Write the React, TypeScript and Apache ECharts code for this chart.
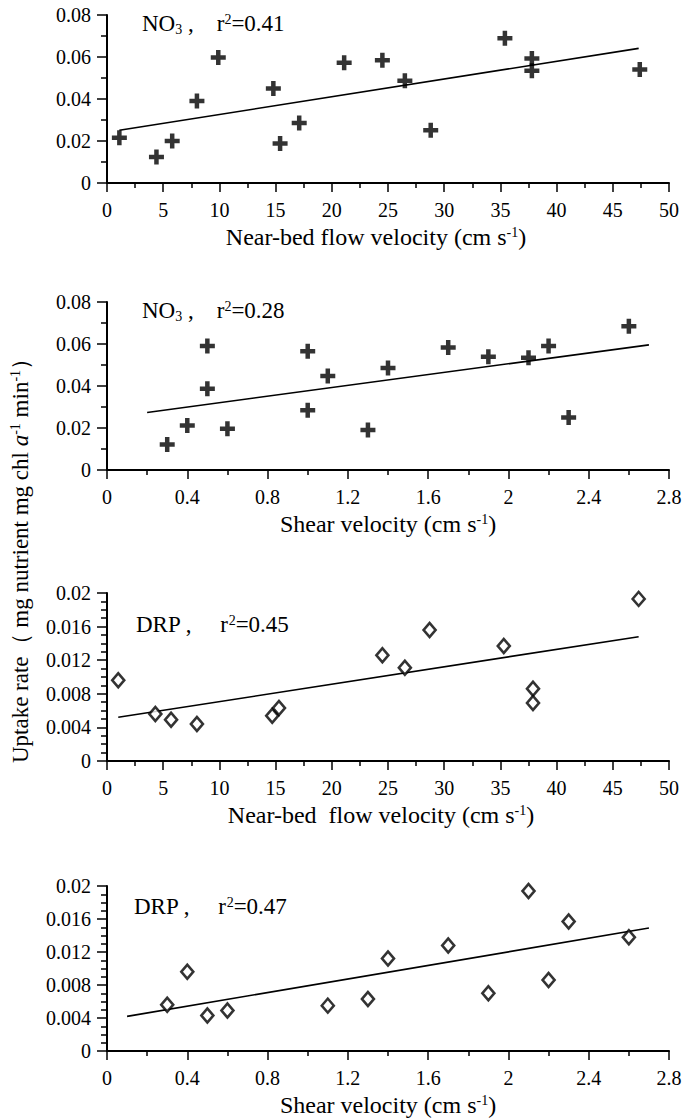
import React, { useEffect, useRef } from 'react';
import * as echarts from 'echarts';

// Panel 1: NO3 vs near-bed flow velocity
const nearBedNO3X = [1.1, 4.4, 5.8, 8.0, 9.9, 14.8, 15.4, 17.1, 21.1, 24.5, 26.5, 28.8, 35.4, 37.8, 37.8, 47.4];
const nearBedNO3Y = [0.0216, 0.0124, 0.02, 0.039, 0.0598, 0.045, 0.0188, 0.0286, 0.0573, 0.0585, 0.0487, 0.0251, 0.0689, 0.0593, 0.0534, 0.0541];
const nearBedNO3Fit = [[1.1, 0.0251], [47.3, 0.0641]];

// Panel 2: NO3 vs shear velocity
const shearNO3X = [0.3, 0.4, 0.5, 0.5, 0.6, 1.0, 1.0, 1.1, 1.3, 1.4, 1.7, 1.9, 2.1, 2.2, 2.3, 2.6];
const shearNO3Y = [0.0122, 0.0212, 0.0591, 0.0387, 0.0196, 0.0566, 0.0285, 0.0448, 0.019, 0.0486, 0.0583, 0.0539, 0.0534, 0.0591, 0.025, 0.0684];
const shearNO3Fit = [[0.2, 0.0274], [2.7, 0.0596]];

// Panel 3: DRP vs near-bed flow velocity
const nearBedDRPX = [1.0, 4.3, 5.7, 8.0, 14.7, 15.3, 24.5, 26.5, 28.7, 35.3, 37.9, 37.9, 47.3];
const nearBedDRPY = [0.0096, 0.0056, 0.0049, 0.0044, 0.0054, 0.0063, 0.0126, 0.0111, 0.0156, 0.0137, 0.0086, 0.0069, 0.0193];
const nearBedDRPFit = [[1.0, 0.0052], [47.3, 0.0148]];

// Panel 4: DRP vs shear velocity
const shearDRPX = [0.3, 0.4, 0.5, 0.6, 1.1, 1.3, 1.4, 1.7, 1.9, 2.1, 2.2, 2.3, 2.6];
const shearDRPY = [0.0056, 0.0096, 0.0043, 0.0049, 0.0055, 0.0063, 0.0112, 0.0128, 0.007, 0.0194, 0.0086, 0.0157, 0.0138];
const shearDRPFit = [[0.1, 0.0042], [2.7, 0.0149]];

const panelLabels = ['NO', 'NO', 'DRP', 'DRP'];
const panelSub = ['3', '3', '', ''];
const panelR2 = ['0.41', '0.28', '0.45', '0.47'];

const nearBedRange = { min: 0, max: 50, interval: 5 };
const shearRange = { min: 0, max: 2.8, interval: 0.4 };
const no3Range = { min: 0, max: 0.08, interval: 0.02 };
const drpRange = { min: 0, max: 0.02, interval: 0.004 };

const FONT = '"Liberation Serif", "Times New Roman", serif';
const PLUS = 'path://M3.5,0H6.5V3.5H10V6.5H6.5V10H3.5V6.5H0V3.5H3.5Z';

const zip = (xs: number[], ys: number[]) => xs.map((x, i) => [x, ys[i]]);

export default function App() {
  const ref = useRef<HTMLDivElement>(null);
  useEffect(() => {
    if (!ref.current) return;
    const chart = echarts.init(ref.current, null, { renderer: 'svg' });
    const tops = [15, 302, 593, 886];
    const H = 168;
    const left = 107;
    const width = 562;
    const xRanges = [nearBedRange, shearRange, nearBedRange, shearRange];
    const yRanges = [no3Range, no3Range, drpRange, drpRange];
    const yMinor = [2, 2, 4, 4];
    const xNames = [
      '{a|Near-bed flow velocity (cm s}{s|-1}{a|)}',
      '{a|Shear velocity (cm s}{s|-1}{a|)}',
      '{a|Near-bed  flow velocity (cm s}{s|-1}{a|)}',
      '{a|Shear velocity (cm s}{s|-1}{a|)}',
    ];
    const xNamePad = [24, 0, 14, 0];
    const pts = [
      zip(nearBedNO3X, nearBedNO3Y),
      zip(shearNO3X, shearNO3Y),
      zip(nearBedDRPX, nearBedDRPY),
      zip(shearDRPX, shearDRPY),
    ];
    const fits = [nearBedNO3Fit, shearNO3Fit, nearBedDRPFit, shearDRPFit];
    const titleX = [142, 142, 136, 134];
    const titleY = [25, 312, 627, 909];

    const richBase = {
      a: { fontFamily: FONT, fontSize: 24, color: '#000', lineHeight: 28 },
      s: { fontFamily: FONT, fontSize: 14, color: '#000', lineHeight: 28, padding: [0, 0, 9, 0] },
    };

    const axisLine = { show: true, onZero: false, lineStyle: { color: '#000', width: 2 } };

    const option: any = {
      animation: false,
      backgroundColor: '#fff',
      textStyle: { fontFamily: FONT },
      grid: tops.map((t) => ({ left, width, top: t, height: H, containLabel: false })),
      xAxis: xRanges.map((r, i) => ({
        type: 'value',
        gridIndex: i,
        min: r.min,
        max: r.max,
        interval: r.interval,
        axisLine,
        axisTick: { show: true, inside: false, length: 9, lineStyle: { color: '#000', width: 1.5 } },
        minorTick: { show: true, splitNumber: 2, length: 5, lineStyle: { color: '#000', width: 1.5 } },
        splitLine: { show: false },
        axisLabel: { fontFamily: FONT, fontSize: 20, color: '#000', margin: 17 },
        name: xNames[i],
        nameLocation: 'middle',
        nameGap: 40,
        nameTextStyle: { rich: richBase, fontFamily: FONT, fontSize: 24, color: '#000', padding: [0, xNamePad[i], 0, 0] },
      })),
      yAxis: yRanges.map((r, i) => ({
        type: 'value',
        gridIndex: i,
        min: r.min,
        max: r.max,
        interval: r.interval,
        axisLine,
        axisTick: { show: true, inside: false, length: 10, lineStyle: { color: '#000', width: 1.5 } },
        minorTick: { show: true, splitNumber: yMinor[i], length: 6, lineStyle: { color: '#000', width: 1.5 } },
        splitLine: { show: false },
        axisLabel: { fontFamily: FONT, fontSize: 20, color: '#000', margin: 16 },
      })),
      series: [
        ...pts.map((d, i) => ({
          type: 'scatter',
          xAxisIndex: i,
          yAxisIndex: i,
          data: d,
          symbol: i < 2 ? PLUS : 'diamond',
          symbolSize: i < 2 ? 15 : [12, 14],
          itemStyle: i < 2
            ? { color: '#000' }
            : { color: '#fff', borderColor: '#000', borderWidth: 2.6 },
          z: 3,
        })),
        ...fits.map((d, i) => ({
          type: 'line',
          xAxisIndex: i,
          yAxisIndex: i,
          data: d,
          symbol: 'none',
          lineStyle: { color: '#000', width: 1.6 },
          z: 2,
        })),
      ],
      graphic: [
        ...panelLabels.map((lab, i) => ({
          type: 'text',
          left: titleX[i],
          top: titleY[i] - 14,
          style: {
            text: panelSub[i]
              ? `{a|${lab}}{b|${panelSub[i]}}{a| ,    r}{s|2}{a|=${panelR2[i]}}`
              : `{a|${lab} ,     r}{s|2}{a|=${panelR2[i]}}`,
            rich: {
              a: { fontFamily: FONT, fontSize: 23, color: '#000', lineHeight: 28 },
              b: { fontFamily: FONT, fontSize: 14, color: '#000', lineHeight: 28, padding: [11, 0, 0, 0] },
              s: { fontFamily: FONT, fontSize: 14, color: '#000', lineHeight: 28, padding: [0, 0, 9, 0] },
            },
          },
        })),
        {
          type: 'text',
          x: 20,
          y: 555,
          rotation: Math.PI / 2,
          style: {
            text: '{a|Uptake rate（ mg nutrient mg chl }{i|a}{s|-1}{a| min}{s|-1}{a|）}',
            align: 'center',
            verticalAlign: 'middle',
            rich: {
              a: { fontFamily: FONT, fontSize: 23, color: '#000', lineHeight: 28 },
              i: { fontFamily: FONT, fontSize: 23, fontStyle: 'italic', color: '#000', lineHeight: 28 },
              s: { fontFamily: FONT, fontSize: 14, color: '#000', lineHeight: 28, padding: [0, 0, 10, 0] },
            },
          },
        },
      ],
    };
    chart.setOption(option);
    return () => chart.dispose();
  }, []);
  return (
    <div
      ref={ref}
      style={{ position: 'absolute', left: 0, top: 0, width: 685, height: 1118, background: '#fff' }}
    />
  );
}
